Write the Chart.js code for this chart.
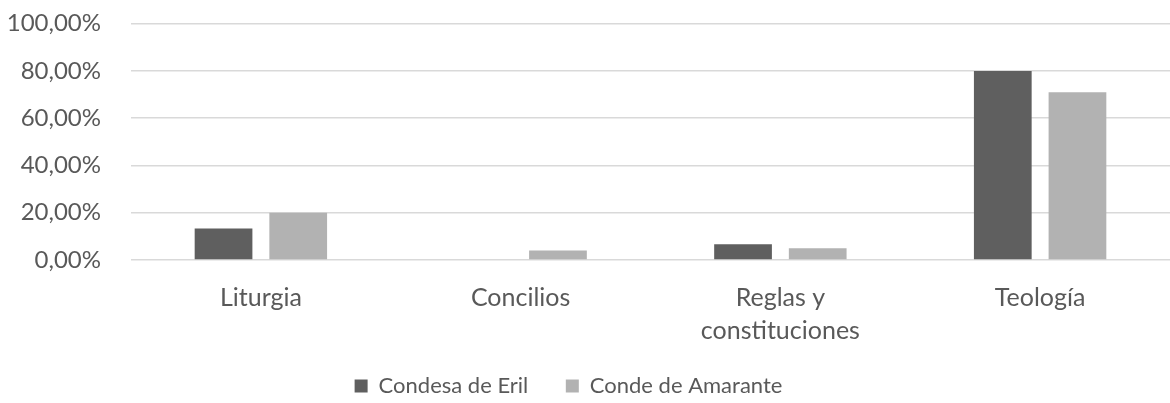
<!DOCTYPE html>
<html>
<head>
<meta charset="utf-8">
<script src="https://cdn.jsdelivr.net/npm/chart.js@4/dist/chart.umd.min.js"></script>
<style>
  html, body { margin: 0; padding: 0; background: #fff; }
  #wrap { width: 1170px; height: 403px; }
</style>
</head>
<body>
<div id="wrap"><canvas id="chart"></canvas></div>
<script>
// categories and series (percent)
const categories = ["Liturgia", "Concilios", ["Reglas y", "constituciones"], "Teología"];
const condesaEril = [13.33, 0, 6.67, 80];
const condeAmarante = [20, 4, 5, 71];
const yTicks = [0, 20, 40, 60, 80, 100];

const fontFamily = "Lato, 'Open Sans', sans-serif";
const textColor = "#595959";

new Chart(document.getElementById("chart"), {
  type: "bar",
  data: {
    labels: categories,
    datasets: [
      {
        label: "Condesa de Eril",
        data: condesaEril,
        backgroundColor: "#5f5f5f",
        categoryPercentage: 0.575,
        barPercentage: 0.773,
      },
      {
        label: "Conde de Amarante",
        data: condeAmarante,
        backgroundColor: "#b2b2b2",
        categoryPercentage: 0.575,
        barPercentage: 0.773,
      },
    ],
  },
  options: {
    responsive: true,
    maintainAspectRatio: false,
    animation: false,
    layout: { padding: { top: 0, right: 0, left: 0, bottom: -4 } },
    plugins: {
      tooltip: { enabled: false },
      legend: {
        position: "bottom",
        labels: {
          color: textColor,
          font: { family: fontFamily, size: 22 },
          boxWidth: 13,
          boxHeight: 13,
          padding: 10,
          // wider gap between the two entries, legend sits a bit left of centre
          generateLabels: function(chart) {
            const items = Chart.defaults.plugins.legend.labels.generateLabels(chart);
            items[0].text += "\u2003\u2002";
            items[1].text += "\u2003\u2003";
            return items;
          },
        },
      },
    },
    scales: {
      x: {
        grid: { display: false },
        border: { display: false },
        ticks: {
          color: textColor,
          font: { family: fontFamily, size: 25, lineHeight: 1.3 },
          padding: 14,
          maxRotation: 0,
        },
        afterFit: function(scale) { scale.height = 105; },
      },
      y: {
        min: 0,
        max: 100,
        afterBuildTicks: function(scale) {
          scale.ticks = yTicks.map(v => ({ value: v }));
        },
        grid: { color: "#d9d9d9", lineWidth: 1.5, drawTicks: false },
        border: { display: false },
        ticks: {
          color: textColor,
          font: { family: fontFamily, size: 24 },
          padding: 30,
          callback: v => v.toFixed(2).replace(".", ",") + "%",
        },
        afterFit: function(scale) {
          scale.width = 131;
          scale.paddingTop = 23.7;
          scale.paddingBottom = 14;
        },
      },
    },
  },
});
</script>
</body>
</html>
